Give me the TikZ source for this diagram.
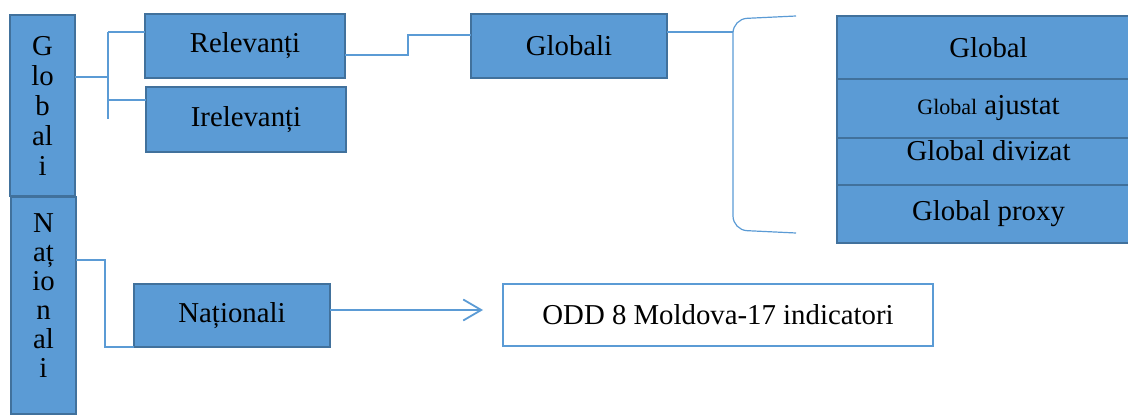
\documentclass[tikz,border=0pt]{standalone}
\usepackage{fontspec}
\setmainfont{Liberation Serif}
\usetikzlibrary{arrows.meta,positioning}
\definecolor{boxfill}{HTML}{5B9BD5}
\definecolor{boxline}{HTML}{41719C}
\definecolor{link}{HTML}{5B9BD5}
\tikzset{
  box/.style={draw=boxline, line width=1.2pt, fill=boxfill, inner sep=0pt, outer sep=0pt, align=center,
              font=\fontsize{14.4}{17}\selectfont},
  vbox/.style={box, font=\fontsize{14.4}{15}\selectfont},
  rowbox/.style={box, minimum width=151.5pt},
  outbox/.style={draw=link, line width=1.1pt, fill=white, inner sep=0pt, font=\fontsize{14.4}{17}\selectfont},
  vlbl/.style={align=center, inner sep=0pt, font=\fontsize{14.4}{14.5}\selectfont},
  conn/.style={draw=link, line width=0.6pt},
  arr/.style={-{Straight Barb[length=9pt,width=10.5pt]}, draw=link, line width=0.9pt},
}

\begin{document}
\begin{tikzpicture}[x=0.5pt, y=-0.5pt]
\useasboundingbox (0,0) rectangle (1128,416);
% left column
\node[vbox, minimum width=32.5pt, minimum height=90.5pt] (glob) at (42.5,105.5) {G\\lo\\b\\al\\i};
\node[box, minimum width=32.5pt, minimum height=108.5pt] (nat) at (43.5,305.5) {};
\node[vlbl] (natlbl) at (43.5,295.5) {N\\aț\\io\\n\\al\\i};

% middle
\node[box, minimum width=100pt, minimum height=32pt] (rel) at (245,46) {Relevanți};
\node[box, minimum width=100pt, minimum height=32.5pt] (irel) at (246,119.5) {Irelevanți};
\node[box, minimum width=98pt, minimum height=32pt] (globali) at (569,46) {Globali};
\node[box, minimum width=98pt, minimum height=31.5pt] (nationali) at (232,315.5) {Naționali};
\node[outbox, minimum width=215pt, minimum height=31pt] (odd) at (718,315) {ODD 8 Moldova-17 indicatori};

% stack of global kinds
\node[rowbox, minimum height=31.5pt] (gl) at (988.5,47.5) {Global};
\node[rowbox, minimum height=29.5pt, below=0pt of gl] (glaj) {{\fontsize{11}{13}\selectfont Global} ajustat};
\node[rowbox, minimum height=23.5pt, text depth=11.3pt, below=0pt of glaj] (gldiv) {Global divizat};
\node[rowbox, minimum height=29pt, below=0pt of gldiv] (glpx) {Global proxy};

% connectors
\coordinate (gfork) at (108,77);
\coordinate (gtop) at (108,32);
\coordinate (gmid) at (108,100);
\coordinate (gbot) at (108,119);
\draw[conn] (glob.east |- gfork) -- (gfork);
\draw[conn] (gtop) -- (gbot);
\draw[conn] (gtop) -- (gtop -| rel.west);
\draw[conn] (gmid) -- (gmid -| irel.west);
\draw[conn] ([yshift=-4.5pt]rel.east) -- ++(63,0) |- ([yshift=5.5pt]globali.west);

\coordinate (brtop) at (796,16);
\coordinate (brbot) at (796,233);
\draw[conn, rounded corners=7pt] (brtop) -- (733,19) -- (733,230) -- (brbot);
\draw[conn] ([yshift=7pt]globali.east) -- ++(66,0);

\draw[conn] ([yshift=22.75pt]nat.east) -- ++(29,0) |- (nationali.south west);
\draw[arr] ([yshift=2.75pt]nationali.east) -- ++(153,0);
\end{tikzpicture}
\end{document}
